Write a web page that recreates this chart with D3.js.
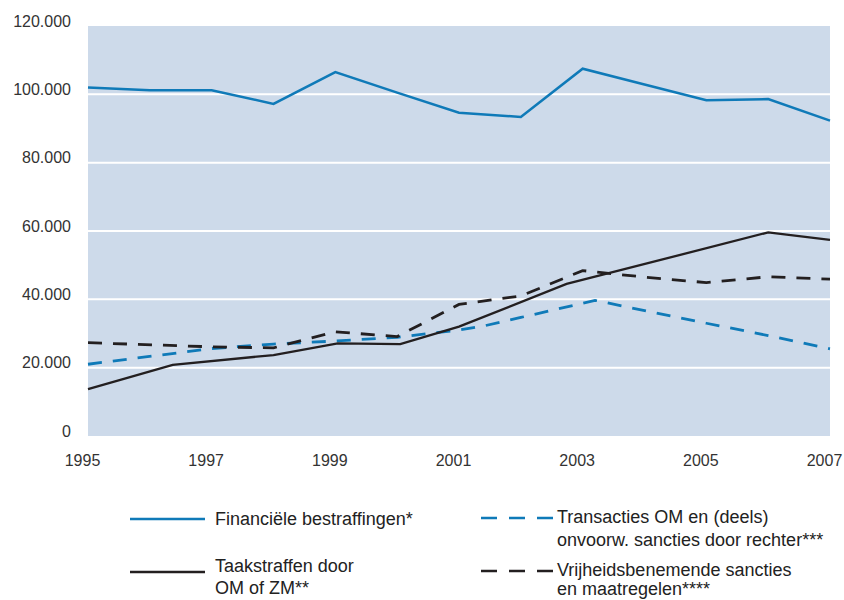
<!DOCTYPE html>
<html>
<head>
<meta charset="utf-8">
<script src="https://cdn.jsdelivr.net/npm/d3@7"></script>
<style>
  html, body { margin: 0; padding: 0; background: #ffffff; }
  svg { display: block; }
  text { font-family: "Liberation Sans", Arial, sans-serif; }
</style>
</head>
<body>
<svg id="chart" width="844" height="600"></svg>
<script>
// ---- data ----
const xTickYears = [1995, 1997, 1999, 2001, 2003, 2005, 2007];
const yTickValues = [0, 20000, 40000, 60000, 80000, 100000, 120000];
const gridValues = [20000, 40000, 60000, 80000, 100000];

// Financiële bestraffingen*
const finYears  = [1995, 1996, 1997, 1998, 1999, 2000, 2001, 2002, 2003, 2004, 2005, 2006, 2007];
const finValues = [102000, 101200, 101200, 97200, 106500, 100500, 94600, 93400, 107500, 102900, 98300, 98600, 92300];

// Taakstraffen door OM of ZM**
const taakYears  = [1995, 1996.37, 1998, 1999.04, 2000.05, 2001, 2002.74, 2006, 2007];
const taakValues = [13700, 20800, 23700, 27100, 26900, 32000, 44500, 59600, 57400];

// Transacties OM en (deels) onvoorw. sancties door rechter***
const transYears  = [1995, 1997, 1998, 1999, 2000, 2001, 2001.4, 2002, 2003.2, 2005, 2006, 2007];
const transValues = [21000, 25600, 26900, 27800, 28900, 31000, 32200, 34700, 39700, 33000, 29400, 25500];

// Vrijheidsbenemende sancties en maatregelen****
const vrijYears  = [1995, 1997, 1998, 1999, 2000, 2001, 2002, 2003, 2004, 2005, 2006, 2007];
const vrijValues = [27300, 26100, 25800, 30500, 29100, 38500, 41000, 48400, 46500, 44900, 46600, 45900];

const legendLabels = [
  ["Financiële bestraffingen*"],
  ["Transacties OM en (deels)", "onvoorw. sancties door rechter***"],
  ["Taakstraffen door", "OM of ZM**"],
  ["Vrijheidsbenemende sancties", "en maatregelen****"]
];

// ---- styles ----
const BLUE = "#0f7ab8";
const BLACK = "#231f20";
const PLOT_BG = "#cddaea";
const TEXT = "#333333";

const svg = d3.select("#chart");
const plot = { left: 88, right: 830, top: 26, bottom: 436 };

const x = d3.scaleLinear().domain([1995, 2007]).range([plot.left, plot.right]);
const y = d3.scaleLinear().domain([0, 120000]).range([plot.bottom, plot.top]);

const nl = d3.formatLocale({ decimal: ",", thousands: ".", grouping: [3], currency: ["", ""] });
const fmt = nl.format(",");

// plot background
svg.append("rect")
  .attr("x", plot.left).attr("y", plot.top)
  .attr("width", plot.right - plot.left).attr("height", plot.bottom - plot.top)
  .attr("fill", PLOT_BG);

// gridlines
svg.append("g").selectAll("line").data(gridValues).join("line")
  .attr("x1", plot.left).attr("x2", plot.right)
  .attr("y1", d => y(d)).attr("y2", d => y(d))
  .attr("stroke", "#ffffff").attr("stroke-width", 2);

// y axis (labels only)
const yAxis = d3.axisLeft(y).tickValues(yTickValues).tickFormat(fmt).tickSize(0).tickPadding(17);
const gy = svg.append("g").attr("transform", `translate(${plot.left},0)`).call(yAxis);
gy.select(".domain").remove();
gy.selectAll("text")
  .attr("dy", "0")
  .attr("font-size", 16)
  .attr("font-family", "'Liberation Sans', Arial, sans-serif")
  .attr("fill", TEXT);

// x axis (labels only)
const xAxis = d3.axisBottom(x).tickValues(xTickYears).tickFormat(d3.format("d")).tickSize(0).tickPadding(0);
const gx = svg.append("g").attr("transform", `translate(-6,${plot.bottom})`).call(xAxis);
gx.select(".domain").remove();
gx.selectAll("text")
  .attr("y", 30).attr("dy", "0")
  .attr("font-size", 16)
  .attr("font-family", "'Liberation Sans', Arial, sans-serif")
  .attr("fill", TEXT);

// lines
const line = d3.line().x(d => x(d[0])).y(d => y(d[1]));
const series = [
  { years: transYears, values: transValues, color: BLUE, dash: "14,11", width: 2.8 },
  { years: vrijYears, values: vrijValues, color: BLACK, dash: "14,11", width: 2.8 },
  { years: taakYears, values: taakValues, color: BLACK, dash: null, width: 2.3 },
  { years: finYears, values: finValues, color: BLUE, dash: null, width: 2.5 }
];
svg.append("g").selectAll("path").data(series).join("path")
  .attr("d", s => line(d3.zip(s.years, s.values)))
  .attr("fill", "none")
  .attr("stroke", s => s.color)
  .attr("stroke-width", s => s.width)
  .attr("stroke-dasharray", s => s.dash)
  .attr("stroke-linejoin", "miter");

// legend
const legendItems = [
  { color: BLUE, dash: null, x1: 130, x2: 205, ly: 519, tx: 215, ty: [525] },
  { color: BLUE, dash: "16,12", x1: 481, x2: 553, ly: 518, tx: 557, ty: [523, 546] },
  { color: BLACK, dash: null, x1: 130, x2: 205, ly: 572, tx: 215, ty: [572, 594] },
  { color: BLACK, dash: "16,12", x1: 481, x2: 553, ly: 571, tx: 557, ty: [576, 595] }
];
const lg = svg.append("g");
legendItems.forEach((it, i) => {
  lg.append("line")
    .attr("x1", it.x1).attr("x2", it.x2).attr("y1", it.ly).attr("y2", it.ly)
    .attr("stroke", it.color).attr("stroke-width", 2.5)
    .attr("stroke-dasharray", it.dash);
  legendLabels[i].forEach((t, j) => {
    lg.append("text")
      .attr("x", it.tx).attr("y", it.ty[j])
      .attr("font-size", 18)
      .attr("fill", "#222222")
      .text(t);
  });
});
</script>
</body>
</html>
